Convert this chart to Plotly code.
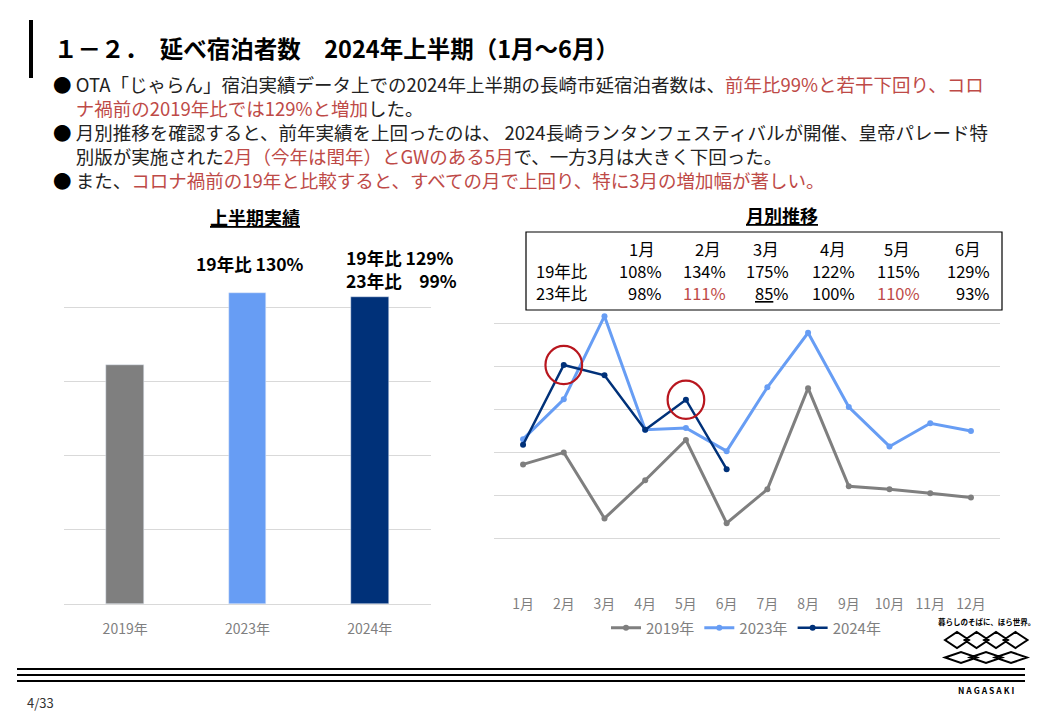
import plotly.graph_objects as go

W, H = 1040, 720
FONT = "Noto Sans CJK JP"

# ---------------- data ----------------
months = ["1月", "2月", "3月", "4月", "5月", "6月", "7月", "8月", "9月", "10月", "11月", "12月"]
v2019 = [57200, 60000, 44600, 53500, 62900, 43500, 51400, 75000, 52100, 51400, 50500, 49500]
v2023 = [63100, 72400, 91800, 65300, 65700, 60300, 75200, 87900, 70600, 61400, 66800, 65000]
v2024 = [61800, 80400, 78000, 65300, 72300, 56100]

years = ["2019年", "2023年", "2024年"]
h1_totals = [321700, 418600, 413900]

table_months = ["1月", "2月", "3月", "4月", "5月", "6月"]
ratio_vs_2019 = [108, 134, 175, 122, 115, 129]
ratio_vs_2023 = [98, 111, 85, 100, 110, 93]
highlight_months = ["2月", "5月"]

# ---------------- styles ----------------
GRAY = "#7F7F7F"
LIGHT = "#679DF4"
NAVY = "#003179"
REDTXT = "#BE4A47"
CIRCLE = "#B8161E"
GRID = "#D9D9D9"


def X(px):
    return px / W


def Y(py):
    return 1 - py / H


fig = go.Figure()

# left: half-year bars
fig.add_trace(go.Bar(
    x=years, y=h1_totals, marker_color=[GRAY, LIGHT, NAVY], width=0.31,
    xaxis="x", yaxis="y", showlegend=False, hoverinfo="x+y"))

# right: monthly lines
for name, vals, col, lw in [("2019年", v2019, GRAY, 3), ("2023年", v2023, LIGHT, 3), ("2024年", v2024, NAVY, 2.5)]:
    fig.add_trace(go.Scatter(
        x=months[:len(vals)], y=vals, name=name, mode="lines+markers",
        line=dict(color=col, width=lw), marker=dict(color=col, size=6),
        xaxis="x2", yaxis="y2"))

shapes = []
annotations = []

# red circles around highlighted 2024 points
for m in highlight_months:
    i = months.index(m)
    v = v2024[i]
    shapes.append(dict(type="circle", xref="x2", yref="y2",
                       x0=i - 0.45, x1=i + 0.45, y0=v - 4450, y1=v + 4450,
                       line=dict(color=CIRCLE, width=2.2)))

# header bar
shapes.append(dict(type="line", xref="paper", yref="paper", x0=X(31), x1=X(31), y0=Y(20), y1=Y(78),
                   line=dict(color="black", width=4)))
# bottom triple lines
for py in [669, 675, 681]:
    shapes.append(dict(type="line", xref="paper", yref="paper", x0=X(17), x1=X(1025), y0=Y(py), y1=Y(py),
                       line=dict(color="black", width=2)))

# table box
shapes.append(dict(type="rect", xref="paper", yref="paper", x0=X(526), x1=X(1002), y0=Y(232), y1=Y(310),
                   line=dict(color="black", width=1.2), fillcolor="white", layer="above"))


def diamond_chain(cxs, cy, hw, hh):
    parts = []
    for cx in cxs:
        pts = [(cx - hw, cy), (cx, cy - hh), (cx + hw, cy), (cx, cy + hh)]
        parts.append("M " + " L ".join(f"{X(a):.5f},{Y(b):.5f}" for a, b in pts) + " Z")
    return " ".join(parts)


shapes.append(dict(type="path", xref="paper", yref="paper",
                   path=diamond_chain([957, 976.5, 996, 1015.5], 640, 12, 8),
                   line=dict(color="black", width=2)))
shapes.append(dict(type="path", xref="paper", yref="paper",
                   path=diamond_chain([961, 986, 1011], 657.5, 16, 5.5),
                   line=dict(color="black", width=2)))


def ann(text, px, py, size, color="black", xanchor="left", bold=False, **kw):
    if bold:
        text = f"<b>{text}</b>"
    annotations.append(dict(text=text, x=X(px), y=Y(py), xref="paper", yref="paper",
                            xanchor=xanchor, yanchor="middle", showarrow=False,
                            font=dict(family=FONT, size=size, color=color), **kw))


def red(t):
    return f"<span style='color:{REDTXT}'>{t}</span>"


# title
ann("１－２．　延べ宿泊者数　2024年上半期（1月～6月）", 52, 48, 23.5, bold=True)

# bullets (one text block)
DOT = "<span style='color:#000000'>●</span>&nbsp;"
IND = "　&nbsp;"
bullet_lines = [
    DOT + "OTA「じゃらん」宿泊実績データ上での2024年上半期の長崎市延宿泊者数は、" + red("前年比99%と若干下回り、コロ"),
    IND + red("ナ禍前の2019年比では129%と増加") + "した。",
    DOT + "月別推移を確認すると、前年実績を上回ったのは、 2024長崎ランタンフェスティバルが開催、皇帝パレード特",
    IND + "別版が実施された" + red("2月（今年は閏年）とGWのある5月") + "で、一方3月は大きく下回った。",
    DOT + "また、" + red("コロナ禍前の19年と比較すると、すべての月で上回り、特に3月の増加幅が著しい。"),
]
ann("<br>".join(bullet_lines), 51, 131.5, 18.5, color="#222222", align="left")

# chart titles
ann("<u>上半期実績</u>", 255, 217, 18, xanchor="center", bold=True)
ann("<u>月別推移</u>", 782, 215, 18, xanchor="center", bold=True)

# bar labels
ann(f"19年比 {round(h1_totals[1] / h1_totals[0] * 100)}%", 250, 263, 17.5, xanchor="center", bold=True)
ann(f"19年比 {round(h1_totals[2] / h1_totals[0] * 100)}%", 344, 257, 17.5, bold=True)
ann(f"23年比　{round(h1_totals[2] / h1_totals[1] * 100)}%", 344, 281, 17.5, bold=True)

# table
hdr_x = [642, 708, 766, 833, 897, 968]
num_right = [664, 728, 791, 857, 922, 992]
ann("19年比", 534, 271, 16.5)
ann("23年比", 534, 293, 16.5)
for i, m in enumerate(table_months):
    ann(m, hdr_x[i], 249, 16.5, xanchor="center")
    ann(f"{ratio_vs_2019[i]}%", num_right[i], 271, 16.5, xanchor="right")
    r = ratio_vs_2023[i]
    if r > 100:
        t = red(f"{r}%")
    elif r < 90:
        t = f"<u>{r}</u>%"
    else:
        t = f"{r}%"
    ann(t, num_right[i], 293, 16.5, xanchor="right")

# footer
ann("4/33", 25, 702, 13, color="#333333")
ann("暮らしのそばに、ほら世界。", 986, 621, 7.5, xanchor="center", bold=True)
ann("N A G A S A K I", 986, 690, 8.5, xanchor="center", bold=True)

fig.update_layout(
    width=W, height=H, autosize=False,
    margin=dict(l=0, r=0, t=0, b=0),
    paper_bgcolor="white", plot_bgcolor="white",
    font=dict(family=FONT, color=GRAY),
    bargap=0,
    xaxis=dict(domain=[X(64), X(431)], anchor="y", type="category",
               showgrid=False, showline=False, zeroline=False,
               ticks="outside", ticklen=12, tickcolor="rgba(0,0,0,0)",
               tickfont=dict(size=14, color=GRAY, family=FONT)),
    yaxis=dict(domain=[Y(604), Y(233)], anchor="x", range=[0, 500000], dtick=100000,
               showticklabels=False, gridcolor=GRID, gridwidth=1,
               zeroline=True, zerolinecolor=GRID, zerolinewidth=1, showline=False),
    xaxis2=dict(domain=[X(494), X(1000)], anchor="y2", type="category",
                showgrid=False, showline=False, zeroline=False,
                ticks="outside", ticklen=10, tickcolor="rgba(0,0,0,0)",
                tickfont=dict(size=14, color=GRAY, family=FONT)),
    yaxis2=dict(domain=[Y(581), Y(281)], anchor="x2", range=[30000, 100000], dtick=10000, tick0=0,
                showticklabels=False, gridcolor=GRID, gridwidth=1, zeroline=False, showline=False),
    legend=dict(orientation="h", x=X(746), y=Y(628), xanchor="center", yanchor="middle",
                font=dict(size=15, color=GRAY, family=FONT), bgcolor="rgba(0,0,0,0)",
                itemwidth=30, tracegroupgap=0),
    shapes=shapes,
    annotations=annotations,
    hovermode="closest",
)

fig.write_html("out.html", config={"displayModeBar": False},
               post_script="document.body.style.margin='0';document.body.style.padding='0';")
